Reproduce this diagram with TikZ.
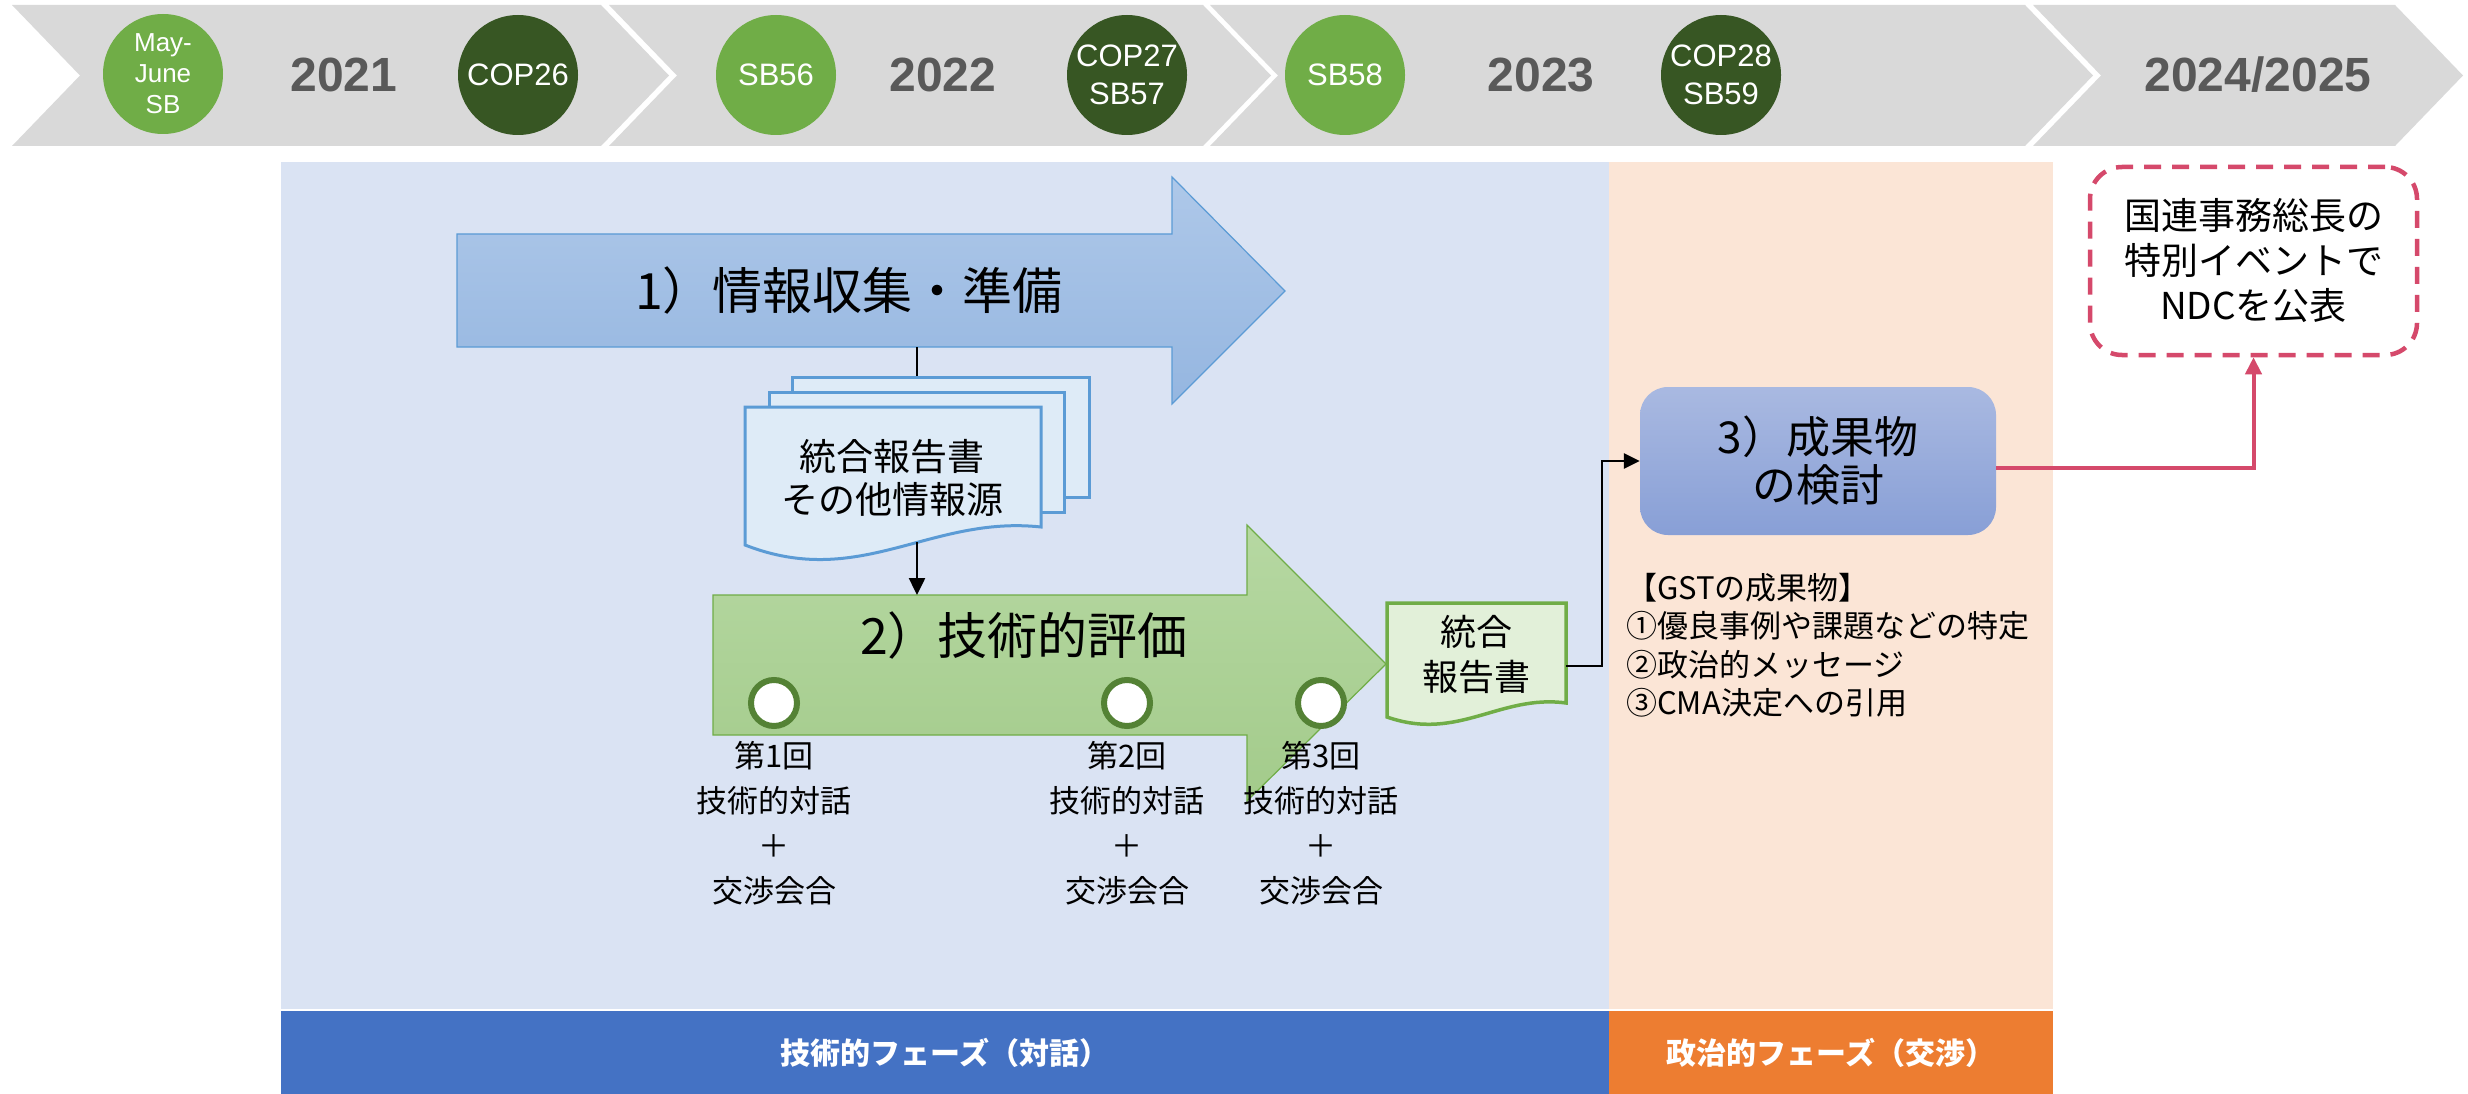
\documentclass[tikz,border=0pt]{standalone}
\usepackage{fontspec}
\setmainfont{Noto Sans CJK JP}
\newfontfamily\latinf{Liberation Sans}
\usetikzlibrary{arrows.meta}
\definecolor{chev}{HTML}{D9D9D9}
\definecolor{lgreen}{HTML}{70AD47}
\definecolor{dgreen}{HTML}{375623}
\definecolor{yeargray}{HTML}{595959}
\definecolor{panelblue}{HTML}{DAE3F3}
\definecolor{panelorange}{HTML}{FBE5D6}
\definecolor{barblue}{HTML}{4472C4}
\definecolor{barorange}{HTML}{ED7D31}
\definecolor{docfill}{HTML}{DEEBF7}
\definecolor{docline}{HTML}{5B9BD5}
\definecolor{gdocfill}{HTML}{E2F0D9}
\definecolor{circline}{HTML}{548235}
\definecolor{pinkred}{HTML}{D5496B}
\definecolor{arrblueT}{HTML}{AEC8E9}
\definecolor{arrblueB}{HTML}{95B6E0}
\definecolor{arrgreenT}{HTML}{B6D8A2}
\definecolor{arrgreenB}{HTML}{A3CB8B}
\definecolor{boxT}{HTML}{A9B9E1}
\definecolor{boxB}{HTML}{889FD6}
\tikzset{
  chevron/.style={fill=chev,draw=none},
  evt/.style={circle,minimum size=120pt,inner sep=0pt,text=white,align=center,
    font=\latinf\fontsize{31}{38}\selectfont},
  yeartxt/.style={text=yeargray,inner sep=0pt,font=\latinf\bfseries\fontsize{48}{48}\selectfont},
  bigtxt/.style={inner sep=0pt,font=\fontsize{50}{56}\selectfont},
  doctxt/.style={inner sep=0pt,align=center,font=\fontsize{37}{43}\selectfont},
  meet/.style={circle,draw=circline,line width=6pt,fill=white,minimum size=46pt,inner sep=0pt},
  meettxt/.style={inner sep=0pt,align=center,font=\fontsize{31}{45}\selectfont},
  conn/.style={line width=2.5pt,black},
  bartxt/.style={text=white,inner sep=0pt,font=\bfseries\fontsize{30}{30}\selectfont},
}
\begin{document}
\begin{tikzpicture}[x=1pt,y=-1pt]
\useasboundingbox (0,0) rectangle (2468,1094);
\fill[white] (0,0) rectangle (2468,1094);
% timeline chevrons
\foreach \xl/\xr in {12/601,609/1203,1210/2025,2033/2395}{
  \fill[chevron] (\xl,5) -- (\xr,5) -- (\xr+68,75.5) -- (\xr,146) -- (\xl,146) -- (\xl+68,75.5) -- cycle;
}
\node[evt,fill=lgreen,font=\latinf\fontsize{26}{31}\selectfont] (e1) at (163,74) {May-\\June\\SB};
\node[yeartxt] (y1) at (344,75) {2021};
\node[evt,fill=dgreen] (e2) at (518,75) {COP26};
\node[evt,fill=lgreen] (e3) at (776,75) {SB56};
\node[yeartxt] (y2) at (943,75) {2022};
\node[evt,fill=dgreen] (e4) at (1127,75) {COP27\\SB57};
\node[evt,fill=lgreen] (e5) at (1345,75) {SB58};
\node[yeartxt] (y3) at (1541,75) {2023};
\node[evt,fill=dgreen] (e6) at (1721,75) {COP28\\SB59};
\node[yeartxt] (y4) at (2258,75) {2024/2025};
% panels
\fill[panelblue] (281,162) rectangle (1609,1009);
\fill[panelorange] (1609,162) rectangle (2053,1009);
\fill[barblue] (281,1011) rectangle (1609,1094);
\fill[barorange] (1609,1011) rectangle (2053,1094);
\node[bartxt] (b1) at (945,1053) {技術的フェーズ（対話）};
\node[bartxt] (b2) at (1831,1053) {政治的フェーズ（交渉）};
% arrow 1
\shade[top color=arrblueT,bottom color=arrblueB,draw=docline,line width=1.2pt]
  (457,234) -- (1172,234) -- (1172,177) -- (1285,291) -- (1172,404) -- (1172,347) -- (457,347) -- cycle;
\node[bigtxt] (t1) at (849,290) {1）情報収集・準備};
\coordinate (a1b) at (917,347);
\coordinate (docT) at (917,377);
\draw[conn] (a1b) -- (docT);
% document stack
\draw[fill=docfill,draw=docline,line width=3pt] (792,377) rectangle (1089,497);
\draw[fill=docfill,draw=docline,line width=3pt] (769,392) rectangle (1064,512);
\draw[fill=docfill,draw=docline,line width=3pt] (745,407) -- (1041,407) -- (1041,527)
  .. controls (930,515) and (860,590) .. (745,545) -- cycle;
\node[doctxt] (d1) at (892,478) {統合報告書\\その他情報源};
\coordinate (docB) at (917,542);
% arrow 2
\shade[top color=arrgreenT,bottom color=arrgreenB,draw=lgreen,line width=1.2pt]
  (713,595) -- (1247,595) -- (1247,525) -- (1386,664) -- (1247,801) -- (1247,735) -- (713,735) -- cycle;
\coordinate (a2t) at (917,595);
\draw[conn,-{Triangle[length=17pt,width=16pt]}] (docB) -- (a2t);
\node[bigtxt] (t2) at (1024,635) {2）技術的評価};
\node[meet] (c1) at (774,703) {};
\node[meet] (c2) at (1127,703) {};
\node[meet] (c3) at (1321,703) {};
\node[meettxt] (m1) at (774,823) {第1回\\技術的対話\\＋\\交渉会合};
\node[meettxt] (m2) at (1127,823) {第2回\\技術的対話\\＋\\交渉会合};
\node[meettxt] (m3) at (1321,823) {第3回\\技術的対話\\＋\\交渉会合};
% green document
\draw[fill=gdocfill,draw=lgreen,line width=3.5pt] (1387,603) -- (1566,603) -- (1566,703)
  .. controls (1500,694) and (1458,742) .. (1387,717) -- cycle;
\node[doctxt,font=\fontsize{36}{45}\selectfont] (d2) at (1476,654) {統合\\報告書};
\coordinate (gdE) at (1566,666);
% box 3
\node[rounded corners=28pt,top color=boxT,bottom color=boxB,minimum width=356pt,minimum height=148pt,
  inner sep=0pt,align=center,font=\fontsize{44}{48}\selectfont] (box3) at (1818,461) {3）成果物\\の検討};
\draw[conn,-{Triangle[length=16pt,width=15pt]}] (gdE) -- (1602,666) |- (box3.west);
% GST text
\node[anchor=north west,inner sep=0pt,align=left,font=\fontsize{31}{38.5}\selectfont] (gst) at (1626,573)
  {【GSTの成果物】\\①優良事例や課題などの特定\\②政治的メッセージ\\③CMA決定への引用};
% NDC box
\node[draw=pinkred,line width=4.5pt,dash pattern=on 17pt off 11pt,rounded corners=32pt,fill=white,
  minimum width=327pt,minimum height=188pt,inner sep=0pt,align=center,font=\fontsize{37}{45}\selectfont]
  (ndc) at (2253.5,261) {国連事務総長の\\特別イベントで\\NDCを公表};
\draw[line width=4pt,pinkred,-{Triangle[length=17pt,width=16pt]}] ([yshift=-7pt]box3.east) -| (ndc.south);
\end{tikzpicture}
\end{document}
